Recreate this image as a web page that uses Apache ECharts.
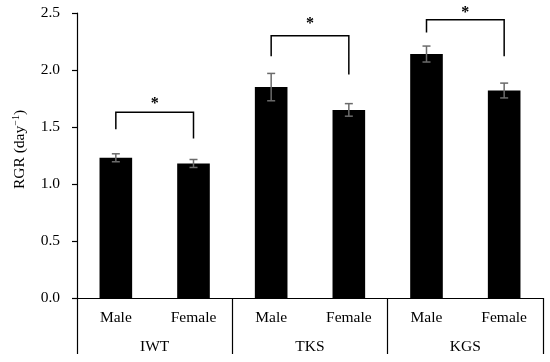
<!DOCTYPE html>
<html>
<head>
<meta charset="utf-8">
<script src="https://cdn.jsdelivr.net/npm/echarts@6/dist/echarts.min.js"></script>
<style>html,body{margin:0;padding:0;background:#fff}#c{width:550px;height:362px}</style>
</head>
<body>
<div id="c"></div>
<script>
var sexLabels = ['Male', 'Female', 'Male', 'Female', 'Male', 'Female'];
var groups = ['IWT', 'TKS', 'KGS'];
var rgr = [1.23, 1.18, 1.85, 1.65, 2.14, 1.82];
var rgrErr = [0.035, 0.035, 0.12, 0.055, 0.07, 0.065];
// significance brackets: left bar index, right bar index, top, left leg end, right leg end, star level
var bracketLeft = [0, 2, 4];
var bracketRight = [1, 3, 5];
var bracketTop = [1.63, 2.30, 2.44];
var bracketLeftEnd = [1.48, 2.12, 2.33];
var bracketRightEnd = [1.40, 1.96, 2.12];
var starLevel = [1.735, 2.435, 2.535];
var bracketMark = ['*', '*', '*'];
var yTicks = [0, 0.5, 1.0, 1.5, 2.0, 2.5];

var FONT = '"Liberation Serif", "Times New Roman", serif';

var errData = rgr.map(function (v, i) { return [i, v, rgrErr[i]]; });
var brData = bracketLeft.map(function (l, i) {
  return [l, bracketRight[i], bracketTop[i], bracketLeftEnd[i], bracketRightEnd[i], starLevel[i], i];
});

var chart = echarts.init(document.getElementById('c'));
chart.setOption({
  animation: false,
  backgroundColor: '#fff',
  grid: { left: 77, right: 7, top: 13, bottom: 64, containLabel: false },
  xAxis: [
    {
      type: 'category', data: sexLabels, position: 'bottom',
      axisLine: { show: false }, axisTick: { show: false },
      axisLabel: { color: '#000', fontFamily: FONT, fontSize: 15.5, margin: 12, interval: 0 }
    },
    {
      type: 'category', data: groups, position: 'bottom',
      axisLine: { show: true, lineStyle: { color: '#000', width: 1.2 } },
      axisTick: { show: true, length: 56, lineStyle: { color: '#000', width: 1.2 } },
      axisLabel: { color: '#000', fontFamily: FONT, fontSize: 15.5, margin: 41 }
    }
  ],
  yAxis: {
    type: 'value', min: yTicks[0], max: yTicks[yTicks.length - 1], interval: 0.5,
    axisLine: { show: true, lineStyle: { color: '#000', width: 1.2 } },
    axisTick: { show: true, length: 5, lineStyle: { color: '#000', width: 1.2 } },
    splitLine: { show: false },
    axisLabel: { color: '#000', fontFamily: FONT, fontSize: 15.5, margin: 17,
      formatter: function (v) { return v.toFixed(1); } },
    name: '{a|RGR (day}{s|−1}{a|)}',
    nameLocation: 'middle', nameRotate: 90, nameGap: 48,
    nameTextStyle: {
      padding: [0, 0, 0, 12],
      rich: {
        a: { fontFamily: FONT, fontSize: 15.5, color: '#000', lineHeight: 18 },
        s: { fontFamily: FONT, fontSize: 10, color: '#000', lineHeight: 10, verticalAlign: 'top' }
      }
    }
  },
  series: [
    {
      type: 'bar', xAxisIndex: 0, data: rgr, barWidth: '42%',
      itemStyle: { color: '#000' }
    },
    {
      type: 'custom', xAxisIndex: 0, data: errData, z: 5,
      renderItem: function (params, api) {
        var x = api.value(0), v = api.value(1), e = api.value(2);
        var hi = api.coord([x, v + e]), lo = api.coord([x, v - e]);
        var w = 4;
        var st = { stroke: '#6b6b6b', lineWidth: 1.5 };
        return { type: 'group', children: [
          { type: 'line', shape: { x1: hi[0], y1: hi[1], x2: lo[0], y2: lo[1] }, style: st },
          { type: 'line', shape: { x1: hi[0] - w, y1: hi[1], x2: hi[0] + w, y2: hi[1] }, style: st },
          { type: 'line', shape: { x1: lo[0] - w, y1: lo[1], x2: lo[0] + w, y2: lo[1] }, style: st }
        ]};
      }
    },
    {
      type: 'custom', xAxisIndex: 0, data: brData, z: 6, clip: false,
      renderItem: function (params, api) {
        var l = api.value(0), r = api.value(1), t = api.value(2), le = api.value(3), re = api.value(4);
        var sl = api.value(5), idx = api.value(6);
        var p1 = api.coord([l, le]), p2 = api.coord([l, t]), p3 = api.coord([r, t]), p4 = api.coord([r, re]);
        var ps = api.coord([l, sl]);
        return { type: 'group', children: [
          { type: 'polyline', shape: { points: [p1, p2, p3, p4] },
            style: { stroke: '#000', lineWidth: 1.5, fill: null } },
          { type: 'text', x: (p2[0] + p3[0]) / 2, y: ps[1] + 3.5,
            style: { text: bracketMark[idx], fontFamily: FONT, fontSize: 16, fontWeight: 'bold',
              fill: '#000', align: 'center', verticalAlign: 'middle' } }
        ]};
      }
    }
  ]
});
</script>
</body>
</html>
